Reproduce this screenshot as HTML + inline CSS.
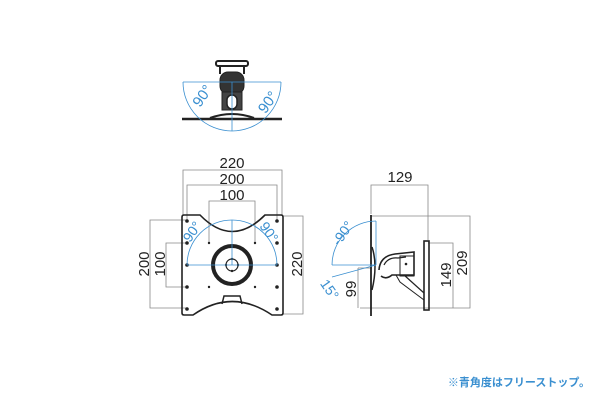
<!DOCTYPE html>
<html><head><meta charset="utf-8"><style>
body{margin:0;background:#fff;width:600px;height:400px;overflow:hidden}
svg text{font-family:"Liberation Sans","Noto Sans CJK JP",sans-serif}
</style></head><body>
<svg width="600" height="400" viewBox="0 0 600 400" xmlns="http://www.w3.org/2000/svg">
<!-- Top view -->
<g stroke="#222" fill="none">
<line x1="182" y1="119" x2="282" y2="119" stroke-width="2.5"/>
<path d="M210 118 Q232 110 254 118" stroke-width="2"/>
<rect x="216" y="61" width="32" height="5" rx="2" stroke-width="2"/>
<line x1="220" y1="66" x2="220" y2="74" stroke-width="2"/>
<line x1="244" y1="66" x2="244" y2="74" stroke-width="2"/>
<rect x="220" y="72" width="24" height="22" rx="8" fill="#333"/>
<rect x="222" y="92" width="20" height="18" fill="#444"/>
<rect x="227" y="95" width="10" height="14" rx="5" fill="#fff" stroke-width="1.5"/>
</g>
<g stroke="#3a8fd0" fill="none" stroke-width="0.8">
<line x1="183" y1="82" x2="281" y2="82"/>
<line x1="232" y1="82" x2="232" y2="131"/>
<path d="M183 82 A49 49 0 0 0 281 82"/>
</g>
<text x="200" y="108" font-size="15" fill="#3a8fd0" transform="rotate(-55 200 108)">90°</text>
<text x="258" y="112" font-size="15" fill="#3a8fd0" transform="rotate(-55 264 106)">90°</text>

<!-- Front view dims -->
<g stroke="#888" fill="none" stroke-width="0.8">
<polyline points="183,215 183,170 282,170 282,215"/>
<polyline points="187,220 187,185 277,185 277,220"/>
<polyline points="209,243 209,201 255,201 255,243"/>
<polyline points="187,220 150,220 150,308 187,308"/>
<polyline points="187,243 166,243 166,287 187,287"/>
<polyline points="282,216 303,216 303,314 282,314"/>
</g>
<g font-size="15" fill="#222" text-anchor="middle">
<text x="232" y="168">220</text>
<text x="232" y="184">200</text>
<text x="232" y="200">100</text>
<text transform="translate(149,264) rotate(-90)">200</text>
<text transform="translate(165,264) rotate(-90)">100</text>
<text transform="translate(302,264) rotate(-90)">220</text>
</g>
<!-- plate -->
<path d="M184 215 L200 215 Q232 248 265 215 L281 215 Q283 215 283 217 L283 313 Q283 315 281 315 L272 315 Q232 288 193 315 L184 315 Q182 315 182 313 L182 217 Q182 215 184 215 Z" fill="none" stroke="#222" stroke-width="1.6"/>
<path d="M222 304 L224 296 L240 296 L242 304" fill="none" stroke="#222" stroke-width="1.5"/>
<circle cx="232" cy="265" r="19" fill="none" stroke="#222" stroke-width="4"/>
<circle cx="232" cy="265" r="6" fill="none" stroke="#222" stroke-width="1.2"/>
<g fill="#222">
<circle cx="187" cy="221" r="1.8"/><circle cx="277" cy="221" r="1.8"/>
<circle cx="187" cy="243" r="1.8"/><circle cx="277" cy="243" r="1.8"/>
<circle cx="187" cy="265" r="1.8"/><circle cx="277" cy="265" r="1.8"/>
<circle cx="187" cy="287" r="1.8"/><circle cx="277" cy="287" r="1.8"/>
<circle cx="187" cy="309" r="1.8"/><circle cx="277" cy="309" r="1.8"/>
<circle cx="209" cy="243" r="1.2"/><circle cx="255" cy="243" r="1.2"/>
<circle cx="209" cy="287" r="1.2"/><circle cx="255" cy="287" r="1.2"/>
<circle cx="232" cy="259" r="1.2"/><circle cx="232" cy="271" r="1.2"/>
<circle cx="226" cy="265" r="1.2"/><circle cx="238" cy="265" r="1.2"/>
</g>
<g stroke="#3a8fd0" fill="none" stroke-width="0.8">
<line x1="187" y1="265" x2="277" y2="265"/>
<line x1="232" y1="265" x2="232" y2="220"/>
<path d="M187 265 A45 45 0 0 1 277 265"/>
</g>
<text x="180" y="240" font-size="14" fill="#3a8fd0" transform="rotate(-55 188 232)">90°</text>
<text x="258" y="236" font-size="14" fill="#3a8fd0" transform="rotate(55 268 232)">90°</text>

<!-- Side view -->
<g stroke="#888" fill="none" stroke-width="0.8">
<polyline points="371,214 371,185 428,185 428,240"/>
<polyline points="371,216 470,216 470,308 360,308"/>
<polyline points="428,243 453,243 453,308"/>
<line x1="358" y1="268" x2="358" y2="308"/>
<line x1="358" y1="268" x2="372" y2="268"/>
</g>
<g font-size="15" fill="#222" text-anchor="middle">
<text x="400" y="182">129</text>
<text transform="translate(451,275) rotate(-90)">149</text>
<text transform="translate(467,263) rotate(-90)">209</text>
<text transform="translate(356,289) rotate(-90)">99</text>
</g>
<line x1="371" y1="215" x2="371" y2="316" stroke="#222" stroke-width="1.8"/>
<path d="M372 247 Q378 265 372 290" fill="none" stroke="#222" stroke-width="1.5"/>
<rect x="424" y="241" width="5" height="69" fill="none" stroke="#222" stroke-width="1.6"/>
<path d="M379 270 Q380 256 395 254 L414 252 L414 275 L392 275 Q386 280 381 276" fill="none" stroke="#222" stroke-width="1.6"/>
<path d="M384 265 Q388 257 398 258 L406 257" fill="none" stroke="#222" stroke-width="1.2"/>
<rect x="400" y="256" width="14" height="20" fill="none" stroke="#222" stroke-width="1"/>
<circle cx="406" cy="264" r="1.3" fill="#222"/>
<path d="M404 275 L424 293" stroke="#222" stroke-width="1.2"/>
<path d="M396 275 L400 282 L424 300" stroke="#222" stroke-width="1" fill="none"/>
<g stroke="#3a8fd0" fill="none" stroke-width="0.8">
<line x1="376" y1="265" x2="332" y2="265"/>
<line x1="376" y1="265" x2="376" y2="221"/>
<line x1="376" y1="265" x2="332" y2="277"/>
<path d="M332 265 A44 44 0 0 1 376 221"/>
</g>
<text x="330" y="243" font-size="14" fill="#3a8fd0" transform="rotate(-55 338 236)">-90°</text>
<text x="322" y="289" font-size="14" fill="#3a8fd0" transform="rotate(55 326 284)">15°</text>

<text x="590" y="386" font-size="11" font-weight="bold" fill="#3a8fd0" text-anchor="end">※青角度はフリーストップ。</text>
</svg>
</body></html>
